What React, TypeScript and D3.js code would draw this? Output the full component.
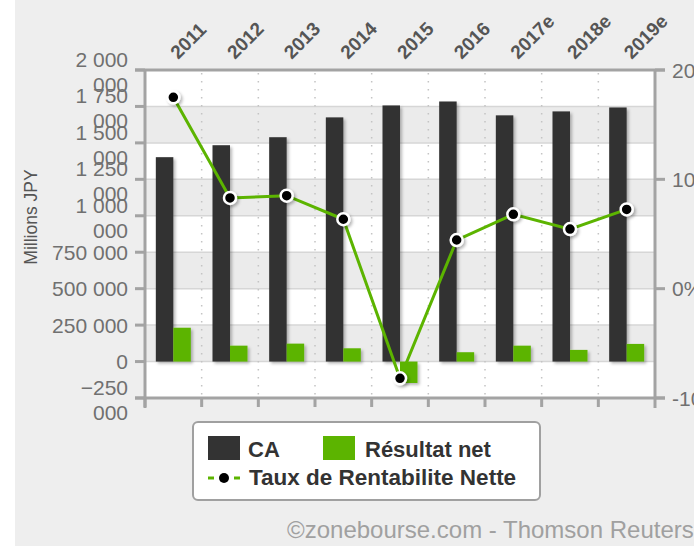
import React from "react";
import * as d3 from "d3";

const years = ["2011", "2012", "2013", "2014", "2015", "2016", "2017e", "2018e", "2019e"];
const caValues = [1402000, 1484000, 1539000, 1675000, 1757000, 1784000, 1689000, 1716000, 1743000];
const netValues = [232000, 109000, 123000, 91000, -147000, 64000, 109000, 80000, 121000];
const rateValues = [17.5, 8.3, 8.5, 6.35, -8.2, 4.45, 6.8, 5.45, 7.25];
const leftTicks = [-250000, 0, 250000, 500000, 750000, 1000000, 1250000, 1500000, 1750000, 2000000];
const rightTicks = [-10, 0, 10, 20];
const seriesKeys = ["CA", "Résultat net"];

const W = 694;
const H = 546;
const FONT = "'Liberation Sans', Arial, sans-serif";

export default function App() {
  const left = 145, right = 655, top = 70, bottom = 398;
  const x = d3.scaleBand<string>().domain(years).range([left, right]).padding(0);
  const inner = d3.scaleBand<string>().domain(seriesKeys).range([-17.5, 17.5]).padding(0);
  const yL = d3.scaleLinear().domain([-250000, 2000000]).range([bottom, top]);
  const yR = d3.scaleLinear().domain([-10, 20]).range([bottom, top]);
  const fmt = (v: number) => d3.format(",")(v).replace(/,/g, " ");
  const cx = (yr: string) => (x(yr) as number) + x.bandwidth() / 2;
  const line = d3
    .line<number>()
    .x((_, i) => cx(years[i]))
    .y((d) => yR(d));

  const bands = [] as { y0: number; y1: number; grey: boolean }[];
  for (let i = 0; i < leftTicks.length - 1; i++) {
    const idxFromTop = leftTicks.length - 2 - i;
    bands.push({ y0: yL(leftTicks[i + 1]), y1: yL(leftTicks[i]), grey: idxFromTop % 2 === 1 });
  }
  const axisColor = "#a3a3a3";

  return (
    <svg
      width={W}
      height={H}
      style={{ position: "absolute", left: 0, top: 0, display: "block" }}
      fontFamily={FONT}
    >
      <defs>
        <filter id="shadow" x="-30%" y="-30%" width="160%" height="160%">
          <feDropShadow dx="2" dy="2" stdDeviation="1.8" floodColor="#000" floodOpacity="0.28" />
        </filter>
      </defs>
      <rect x={0} y={0} width={W} height={H} fill="#ffffff" />
      <rect x={15} y={0} width={W - 15} height={H} fill="#eeeeee" />

      {/* plot background */}
      <rect x={left} y={top} width={right - left} height={bottom - top} fill="#ffffff" />
      {bands.map((b, i) =>
        b.grey ? <rect key={i} x={left} y={b.y0} width={right - left} height={b.y1 - b.y0} fill="#ebebeb" /> : null
      )}
      {leftTicks.map((t) => (
        <line key={t} x1={left} x2={right} y1={yL(t)} y2={yL(t)} stroke="#d6d6d6" strokeWidth={1.5} />
      ))}
      {years.slice(1).map((yr) => (
        <line
          key={yr}
          x1={x(yr) as number}
          x2={x(yr) as number}
          y1={top + 3}
          y2={bottom - 2}
          stroke="#c4c4c4"
          strokeWidth={1.5}
          strokeDasharray="1.5,6.5"
        />
      ))}

      {/* bars */}
      <g filter="url(#shadow)">
        {years.map((yr, i) => (
          <rect
            key={"ca" + yr}
            x={cx(yr) + (inner("CA") as number)}
            width={inner.bandwidth()}
            y={yL(Math.max(0, caValues[i]))}
            height={Math.abs(yL(caValues[i]) - yL(0))}
            fill="#333333"
          />
        ))}
        {years.map((yr, i) => (
          <rect
            key={"net" + yr}
            x={cx(yr) + (inner("Résultat net") as number)}
            width={inner.bandwidth()}
            y={yL(Math.max(0, netValues[i]))}
            height={Math.abs(yL(netValues[i]) - yL(0))}
            fill="#5cb400"
          />
        ))}
      </g>

      {/* axes */}
      <line x1={135} x2={665} y1={top} y2={top} stroke={axisColor} strokeWidth={3} />
      <line x1={135} x2={665} y1={bottom} y2={bottom} stroke={axisColor} strokeWidth={3} />
      <line x1={left} x2={left} y1={top} y2={bottom + 10} stroke={axisColor} strokeWidth={3} />
      <line x1={right} x2={right} y1={top} y2={bottom + 10} stroke={axisColor} strokeWidth={3} />
      {leftTicks.map((t) => (
        <line key={t} x1={135} x2={left} y1={yL(t)} y2={yL(t)} stroke={axisColor} strokeWidth={3} />
      ))}
      {rightTicks.map((t) => (
        <line key={t} x1={right} x2={665} y1={yR(t)} y2={yR(t)} stroke={axisColor} strokeWidth={3} />
      ))}
      {years.map((yr) => (
        <line
          key={yr}
          x1={x(yr) as number}
          x2={x(yr) as number}
          y1={bottom}
          y2={bottom + 9}
          stroke={axisColor}
          strokeWidth={3}
        />
      ))}

      {/* left tick labels */}
      {leftTicks.map((t) => {
        const s = fmt(t);
        const y = yL(t);
        if (s.length > 7) {
          const k = s.lastIndexOf(" ");
          return (
            <text key={t} textAnchor="end" fontSize={21} fill="#707070">
              <tspan x={128} y={y - 3}>{s.slice(0, k)}</tspan>
              <tspan x={128} y={y + 22}>{s.slice(k + 1)}</tspan>
            </text>
          );
        }
        return (
          <text key={t} x={128} y={y + 7.5} textAnchor="end" fontSize={21} fill="#707070">
            {s}
          </text>
        );
      })}
      {rightTicks.map((t) => (
        <text key={t} x={672} y={yR(t) + 7.5} fontSize={21} fill="#707070">
          {t + "%"}
        </text>
      ))}
      <text
        transform={`translate(37,217) rotate(-90)`}
        textAnchor="middle"
        fontSize={17.5}
        fill="#555555"
      >
        Millions JPY
      </text>

      {/* x labels */}
      {years.map((yr) => (
        <text
          key={yr}
          transform={`translate(${cx(yr) + 5},60) rotate(-45)`}
          fontSize={19}
          fontWeight="bold"
          fill="#555555"
        >
          {yr}
        </text>
      ))}

      {/* line */}
      <path d={line(rateValues) || ""} fill="none" stroke="#5cb400" strokeWidth={3} />
      <g filter="url(#shadow)">
        {rateValues.map((v, i) => (
          <circle key={i} cx={cx(years[i])} cy={yR(v)} r={6} fill="#000000" stroke="#ffffff" strokeWidth={2.5} />
        ))}
      </g>

      {/* legend */}
      <rect x={193} y={422} width={347} height={78} rx={5} ry={5} fill="#ffffff" stroke="#a0a0a0" strokeWidth={2} />
      <rect x={208} y={436} width={32} height={24} fill="#333333" />
      <text x={248} y={457} fontSize={22} fontWeight="bold" fill="#333333">CA</text>
      <rect x={323} y={436} width={32} height={24} fill="#5cb400" />
      <text x={365} y={457} fontSize={22} fontWeight="bold" fill="#333333">Résultat net</text>
      <line x1={208} x2={214} y1={478} y2={478} stroke="#5cb400" strokeWidth={3} />
      <line x1={234} x2={240} y1={478} y2={478} stroke="#5cb400" strokeWidth={3} />
      <circle cx={224} cy={478} r={5} fill="#000000" />
      <text x={249} y={485} fontSize={22.5} fontWeight="bold" fill="#333333">Taux de Rentabilite Nette</text>

      <text x={287} y={538} fontSize={24} fill="#a0a0a0">
        ©zonebourse.com - Thomson Reuters
      </text>
    </svg>
  );
}
